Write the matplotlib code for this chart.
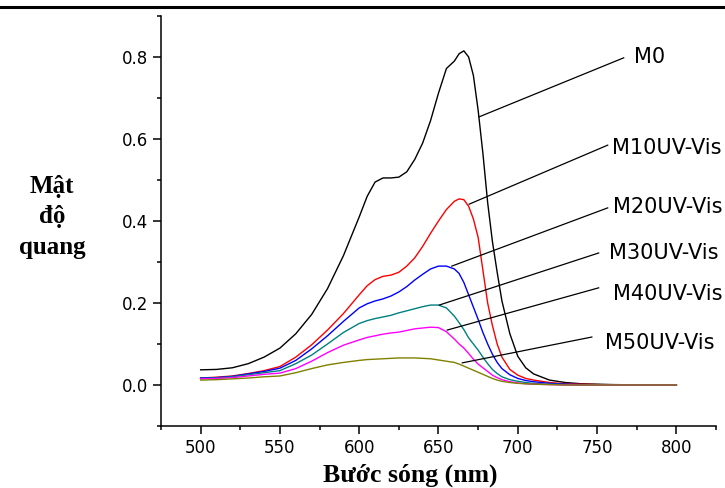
import matplotlib
matplotlib.use("Agg")
import matplotlib.pyplot as plt
from matplotlib.lines import Line2D
from matplotlib.ticker import MultipleLocator, FormatStrFormatter

# wavelength grid (nm)
wavelength = [500, 510, 520, 530, 540, 550, 560, 570, 580, 590, 600, 605, 610, 615,
              620, 625, 630, 635, 640, 645, 650, 655, 660, 663, 666, 669, 672, 675,
              678, 681, 684, 687, 690, 695, 700, 705, 710, 720, 730, 740, 750, 760,
              780, 800]

m0 = [0.037, 0.038, 0.042, 0.052, 0.068, 0.090, 0.125, 0.172, 0.235, 0.315, 0.410,
      0.460, 0.495, 0.505, 0.505, 0.507, 0.520, 0.550, 0.590, 0.645, 0.712, 0.772,
      0.790, 0.808, 0.815, 0.800, 0.755, 0.670, 0.565, 0.445, 0.350, 0.275, 0.205,
      0.125, 0.070, 0.042, 0.027, 0.012, 0.006, 0.003, 0.002, 0.001, 0.0, 0.0]
m10 = [0.017, 0.019, 0.022, 0.028, 0.035, 0.045, 0.068, 0.098, 0.134, 0.174, 0.220,
       0.242, 0.257, 0.265, 0.268, 0.275, 0.290, 0.310, 0.338, 0.370, 0.400, 0.428,
       0.448, 0.454, 0.452, 0.436, 0.405, 0.360, 0.280, 0.200, 0.145, 0.100, 0.068,
       0.038, 0.024, 0.016, 0.012, 0.006, 0.003, 0.002, 0.001, 0.0, 0.0, 0.0]
m20 = [0.017, 0.018, 0.021, 0.027, 0.033, 0.041, 0.060, 0.088, 0.120, 0.155, 0.188,
       0.198, 0.205, 0.210, 0.217, 0.227, 0.240, 0.256, 0.270, 0.283, 0.290, 0.290,
       0.283, 0.272, 0.250, 0.220, 0.190, 0.160, 0.128, 0.100, 0.075, 0.055, 0.040,
       0.025, 0.016, 0.011, 0.008, 0.004, 0.002, 0.001, 0.0, 0.0, 0.0, 0.0]
m30 = [0.016, 0.017, 0.020, 0.025, 0.030, 0.035, 0.052, 0.073, 0.100, 0.128, 0.150,
       0.157, 0.162, 0.166, 0.170, 0.176, 0.181, 0.186, 0.191, 0.195, 0.195, 0.188,
       0.168, 0.152, 0.135, 0.115, 0.100, 0.085, 0.068, 0.052, 0.038, 0.028, 0.020,
       0.013, 0.009, 0.006, 0.004, 0.002, 0.001, 0.0, 0.0, 0.0, 0.0, 0.0]
m40 = [0.015, 0.016, 0.018, 0.022, 0.026, 0.029, 0.040, 0.058, 0.079, 0.097, 0.110,
       0.116, 0.120, 0.124, 0.127, 0.129, 0.133, 0.137, 0.139, 0.141, 0.140, 0.130,
       0.112, 0.100, 0.090, 0.077, 0.063, 0.051, 0.042, 0.033, 0.024, 0.018, 0.013,
       0.008, 0.005, 0.003, 0.002, 0.001, 0.0, 0.0, 0.0, 0.0, 0.0, 0.0]
m50 = [0.012, 0.013, 0.015, 0.017, 0.020, 0.022, 0.030, 0.040, 0.049, 0.055, 0.060,
       0.062, 0.063, 0.064, 0.065, 0.066, 0.066, 0.066, 0.065, 0.064, 0.061, 0.058,
       0.055, 0.051, 0.046, 0.041, 0.036, 0.031, 0.026, 0.021, 0.016, 0.012, 0.009,
       0.006, 0.004, 0.003, 0.002, 0.001, 0.0, 0.0, 0.0, 0.0, 0.0, 0.0]

series = [m0, m10, m20, m30, m40, m50]
names = ["M0", "M10UV-Vis", "M20UV-Vis", "M30UV-Vis", "M40UV-Vis", "M50UV-Vis"]
colors = ["black", "#ff0000", "#0000ff", "#008080", "#ff00ff", "#808000"]

# pointer lines: (curve point, line end, text position), data coords
pointers = [
    ((675.6, 0.654), (766.8, 0.798), (773.1, 0.800)),
    ((669.3, 0.441), (756.7, 0.585), (759.2, 0.578)),
    ((658.4, 0.290), (756.7, 0.432), (759.9, 0.434)),
    ((650.5, 0.195), (751.0, 0.322), (757.3, 0.322)),
    ((655.5, 0.134), (751.0, 0.237), (759.9, 0.222)),
    ((665.0, 0.054), (746.7, 0.117), (754.9, 0.102)),
]

fig = plt.figure(figsize=(7.25, 4.88), dpi=100)
ax = fig.add_axes([161 / 725, 62 / 488, 555 / 725, 410 / 488])

for values, color in zip(series, colors):
    ax.plot(wavelength, values, color=color, lw=1.0)

for name, (start, end, text_pos) in zip(names, pointers):
    ax.plot([start[0], end[0]], [start[1], end[1]], color="black", lw=0.9, clip_on=False)
    ax.text(text_pos[0], text_pos[1], name, fontsize=15, family="DejaVu Sans",
            ha="left", va="center", clip_on=False)

ax.set_xlim(475, 825)
ax.set_ylim(-0.1, 0.9)
ax.xaxis.set_minor_locator(MultipleLocator(25))
ax.yaxis.set_minor_locator(MultipleLocator(0.1))
ax.yaxis.set_major_formatter(FormatStrFormatter("%.1f"))
ax.set_xticks([500, 550, 600, 650, 700, 750, 800])
ax.set_yticks([0.0, 0.2, 0.4, 0.6, 0.8])

for side in ["top", "right"]:
    ax.spines[side].set_visible(False)
for side in ["left", "bottom"]:
    ax.spines[side].set_linewidth(1.1)

ax.tick_params(which="major", direction="out", length=5.5, width=1.1, labelsize=12, pad=4)
ax.tick_params(which="minor", direction="out", length=3, width=1.1)
for label in ax.get_xticklabels() + ax.get_yticklabels():
    label.set_family("DejaVu Sans")

fig.text(410 / 725, 1 - 475 / 488, "Bước sóng (nm)", family="Liberation Serif",
         fontweight="bold", fontsize=18.5, ha="center", va="center")
fig.text(52 / 725, 1 - 217 / 488, "Mật\nđộ\nquang", family="Liberation Serif",
         fontweight="bold", fontsize=18, ha="center", va="center",
         multialignment="center", linespacing=1.4)

# thick rule across the top of the figure
fig.add_artist(Line2D([0, 1], [1 - 6.5 / 488, 1 - 6.5 / 488], color="black", lw=2.2,
                      transform=fig.transFigure))

fig.savefig("out.png", dpi=100)
